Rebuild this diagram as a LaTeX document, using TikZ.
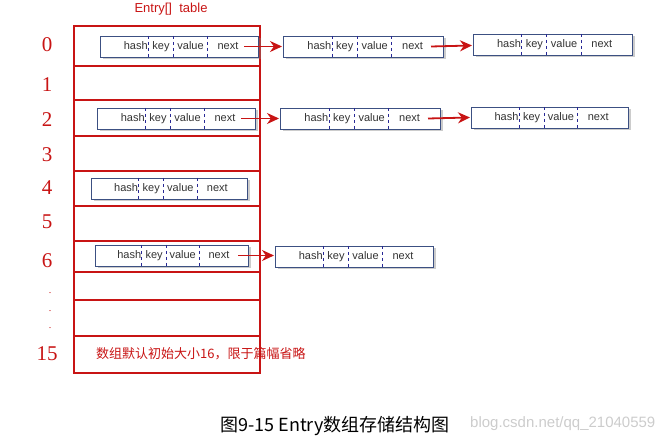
\documentclass[tikz,border=0pt]{standalone}
\usepackage{fontspec}
\setmainfont{Liberation Serif}
\newfontfamily\cjk{Noto Sans CJK SC}
\newfontfamily\lsans{Liberation Sans}
\usetikzlibrary{shadows,arrows.meta}
\definecolor{tred}{RGB}{200,20,20}
\definecolor{fblue}{RGB}{40,40,150}
\definecolor{bblue}{RGB}{60,80,130}
\begin{document}
\begin{tikzpicture}[x=1pt,y=-1pt,
  entrybox/.style={draw=bblue,fill=white,line width=0.6pt,drop shadow={shadow xshift=2.5pt,shadow yshift=-2.5pt,opacity=0.4}},
  fld/.style={font=\lsans\fontsize{11}{11}\selectfont,text=black!80,inner sep=0pt,text height=8pt,text depth=2pt},
  sep/.style={draw=fblue,dashed,line width=0.9pt},
  chain/.style={draw=tred,line width=1.8pt,-{Stealth[length=12pt,width=11pt]}},
  idx/.style={text=tred,font=\fontsize{21}{21}\selectfont,inner sep=0pt},
  rowline/.style={draw=tred,line width=1.4pt}]
\useasboundingbox (0,0) rectangle (671,443);
\newcommand\entry[4]{%
  \path[entrybox] (#2,#3) rectangle ++(#4,21);
  \draw[sep] (#2+0.306*#4,#3) -- ++(0,23);
  \draw[sep] (#2+0.465*#4,#3) -- ++(0,23);
  \draw[sep] (#2+0.68*#4,#3) -- ++(0,23);
  \node[fld,anchor=east] at (#2+0.303*#4,#3+10.5) {hash};
  \node[fld] at (#2+0.386*#4,#3+10.5) {key};
  \node[fld] at (#2+0.573*#4,#3+10.5) {value};
  \node[fld] at (#2+0.81*#4,#3+10.5) {next};
}
\draw[rowline] (74,26) rectangle (260,373);
\foreach \y in {66,100,136,171,206,241,272,300,336} \draw[rowline] (74,\y) -- (260,\y);
\node[text=tred,font=\lsans\fontsize{13}{13}\selectfont] (title) at (171,9) {Entry[]\ \ table};
\foreach \t/\y in {0/45,1/85,2/120,3/155,4/188,5/222,6/261,15/354}
  \node[idx] (i\t) at (47,\y) {\t};
\foreach \y in {293,311,328} \node[text=tred,inner sep=0pt] at (50,\y) {.};
\entry{a}{100}{36}{158}
\entry{b}{283}{36}{160}
\entry{c}{473}{34}{159}
\entry{d}{97}{108}{158}
\entry{e}{280}{108}{160}
\entry{f}{471}{107}{157}
\entry{g}{91}{178}{156}
\entry{h}{95}{245}{153}
\entry{k}{275}{246}{158}
\draw[chain] (244,46.5) -- (282,46.5);
\draw[chain] (431,46.5) -- (472,45.5);
\draw[chain] (241,118.5) -- (279,118.5);
\draw[chain] (428,118.5) -- (470,117.5);
\draw[chain] (238,255.5) -- (274,255.5);
\node[text=tred,font=\cjk\fontsize{13}{13}\selectfont,anchor=west,inner sep=0pt] (note) at (96,354) {数组默认初始大小16，限于篇幅省略};
\node[font=\cjk\fontsize{18}{18}\selectfont,inner sep=0pt] (cap) at (335,426) {图9-15 Entry数组存储结构图};
\node[text=black!20,font=\lsans\fontsize{15}{15}\selectfont,anchor=west,inner sep=0pt] (wm) at (470,424) {blog.csdn.net/qq\_21040559};
\end{tikzpicture}
\end{document}
